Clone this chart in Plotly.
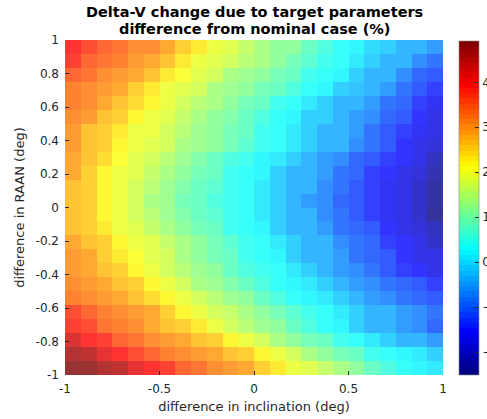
import numpy as np
import plotly.graph_objects as go

# Grid edges (deg): 24 x 24 cells spanning -1..1
incl_edges = np.linspace(-1, 1, 25)
raan_edges = np.linspace(-1, 1, 25)

# Delta-V difference from nominal (%), rows listed from RAAN = +1 (top) down to RAAN = -1
dv_rows_top_down = [
    [3.9, 3.7, 3.5, 3.4, 3.1, 3.1, 2.9, 2.6, 2.3, 2.0, 1.8, 1.6, 1.4, 1.2, 1.1, 0.8, 0.6, 0.4, 0.2, 0.0, -0.1, -0.3, -0.4, -0.6],
    [3.8, 3.5, 3.4, 3.3, 3.0, 2.9, 2.7, 2.3, 2.0, 1.9, 1.7, 1.5, 1.4, 1.1, 0.9, 0.7, 0.5, 0.3, 0.1, -0.1, -0.3, -0.4, -0.7, -0.9],
    [3.5, 3.4, 3.1, 3.0, 2.9, 2.7, 2.3, 2.1, 1.9, 1.7, 1.4, 1.3, 1.1, 0.9, 0.8, 0.5, 0.3, 0.2, -0.1, -0.3, -0.4, -0.7, -1.0, -1.2],
    [3.3, 3.1, 3.0, 2.9, 2.5, 2.3, 2.0, 1.9, 1.7, 1.4, 1.3, 1.1, 0.9, 0.8, 0.6, 0.4, 0.2, -0.1, -0.2, -0.4, -0.6, -0.9, -1.2, -1.4],
    [3.3, 3.1, 2.9, 2.7, 2.4, 2.2, 2.0, 1.7, 1.5, 1.4, 1.1, 0.9, 0.8, 0.5, 0.3, 0.1, -0.1, -0.3, -0.4, -0.6, -0.9, -1.0, -1.4, -1.6],
    [3.1, 3.0, 2.7, 2.5, 2.2, 2.0, 1.9, 1.6, 1.4, 1.2, 1.0, 0.8, 0.6, 0.4, 0.2, -0.1, -0.1, -0.4, -0.6, -0.7, -1.0, -1.2, -1.5, -1.7],
    [3.0, 2.7, 2.5, 2.3, 2.0, 2.0, 1.7, 1.5, 1.3, 1.1, 0.9, 0.8, 0.5, 0.4, 0.1, -0.1, -0.3, -0.4, -0.6, -0.9, -1.2, -1.4, -1.6, -1.8],
    [3.0, 2.7, 2.5, 2.2, 2.0, 1.9, 1.7, 1.4, 1.3, 1.1, 0.9, 0.7, 0.5, 0.3, 0.1, -0.1, -0.3, -0.4, -0.7, -0.9, -1.2, -1.5, -1.7, -1.9],
    [2.9, 2.7, 2.4, 2.1, 1.9, 1.7, 1.5, 1.3, 1.0, 0.8, 0.6, 0.5, 0.2, 0.1, -0.1, -0.4, -0.6, -0.7, -1.0, -1.2, -1.4, -1.5, -1.8, -2.1],
    [2.9, 2.5, 2.2, 2.0, 1.8, 1.6, 1.4, 1.1, 0.9, 0.8, 0.5, 0.3, 0.2, -0.1, -0.3, -0.4, -0.6, -0.9, -1.0, -1.4, -1.5, -1.7, -1.9, -2.2],
    [2.7, 2.5, 2.2, 2.0, 1.7, 1.5, 1.3, 1.0, 0.8, 0.7, 0.5, 0.3, 0.1, -0.1, -0.3, -0.4, -0.7, -0.9, -1.2, -1.4, -1.6, -1.8, -2.0, -2.3],
    [2.7, 2.5, 2.2, 2.0, 1.7, 1.4, 1.3, 0.9, 0.8, 0.6, 0.5, 0.3, 0.1, -0.1, -0.3, -0.6, -0.7, -1.0, -1.2, -1.4, -1.6, -1.8, -2.0, -2.3],
    [2.7, 2.5, 2.2, 2.0, 1.7, 1.5, 1.3, 1.0, 0.8, 0.7, 0.5, 0.3, 0.1, -0.1, -0.3, -0.4, -0.7, -0.9, -1.2, -1.4, -1.6, -1.8, -2.0, -2.4],
    [2.7, 2.5, 2.3, 2.0, 1.9, 1.6, 1.4, 1.1, 0.9, 0.8, 0.5, 0.3, 0.2, -0.1, -0.3, -0.4, -0.6, -0.9, -1.0, -1.2, -1.5, -1.7, -1.9, -2.1],
    [2.9, 2.7, 2.5, 2.2, 2.0, 1.8, 1.6, 1.4, 1.1, 0.9, 0.7, 0.5, 0.3, 0.1, -0.1, -0.3, -0.4, -0.7, -0.9, -1.0, -1.4, -1.5, -1.8, -2.0],
    [3.0, 2.9, 2.5, 2.3, 2.1, 1.9, 1.7, 1.4, 1.1, 0.9, 0.8, 0.5, 0.3, 0.2, -0.1, -0.3, -0.4, -0.6, -0.9, -1.0, -1.2, -1.5, -1.7, -1.8],
    [3.0, 2.9, 2.7, 2.5, 2.2, 2.0, 1.7, 1.5, 1.3, 1.1, 0.8, 0.6, 0.5, 0.3, 0.1, -0.1, -0.3, -0.6, -0.7, -0.9, -1.2, -1.4, -1.5, -1.8],
    [3.1, 3.0, 2.9, 2.7, 2.5, 2.2, 2.0, 1.7, 1.4, 1.3, 1.0, 0.8, 0.6, 0.4, 0.2, 0.1, -0.1, -0.4, -0.6, -0.7, -0.9, -1.0, -1.2, -1.4],
    [3.3, 3.1, 3.0, 2.9, 2.7, 2.4, 2.2, 2.0, 1.7, 1.5, 1.3, 1.1, 0.8, 0.6, 0.4, 0.2, 0.1, -0.1, -0.4, -0.6, -0.7, -0.9, -1.0, -1.2],
    [3.7, 3.5, 3.3, 3.1, 3.0, 2.9, 2.5, 2.2, 2.0, 1.7, 1.6, 1.4, 1.1, 0.9, 0.7, 0.5, 0.3, 0.1, -0.1, -0.3, -0.4, -0.6, -0.7, -0.9],
    [3.8, 3.7, 3.4, 3.3, 3.1, 2.9, 2.7, 2.5, 2.3, 2.0, 1.7, 1.5, 1.3, 1.1, 0.8, 0.6, 0.4, 0.2, -0.1, -0.3, -0.4, -0.6, -0.7, -1.0],
    [4.3, 4.0, 3.8, 3.5, 3.4, 3.1, 3.0, 2.9, 2.7, 2.5, 2.2, 2.0, 1.7, 1.4, 1.1, 0.9, 0.8, 0.5, 0.3, 0.1, -0.1, -0.3, -0.4, -0.6],
    [4.6, 4.5, 4.2, 4.0, 3.7, 3.5, 3.3, 3.1, 3.0, 2.9, 2.7, 2.5, 2.2, 2.0, 1.7, 1.4, 1.1, 0.9, 0.8, 0.5, 0.3, 0.2, 0.1, -0.1],
    [4.9, 4.9, 4.6, 4.5, 4.2, 4.0, 3.8, 3.5, 3.4, 3.1, 3.0, 2.9, 2.6, 2.3, 2.0, 1.9, 1.6, 1.4, 1.1, 0.8, 0.6, 0.4, 0.2, 0.1],
]

color_min, color_max = -2.5, 4.93
x_ticks = [-1, -0.5, 0, 0.5, 1]
y_ticks = [-1, -0.8, -0.6, -0.4, -0.2, 0, 0.2, 0.4, 0.6, 0.8, 1]
cbar_ticks = [-2, -1, 0, 1, 2, 3, 4]

TITLE_LINES = ["Delta-V change due to target parameters", "difference from nominal case (%)"]


def jet_levels(n=64):
    """Stepped jet colour scale with n discrete levels."""
    scale = []
    for i in range(n):
        t = i / (n - 1)
        r = np.clip(1.5 - abs(4 * t - 3), 0, 1)
        g = np.clip(1.5 - abs(4 * t - 2), 0, 1)
        b = np.clip(1.5 - abs(4 * t - 1), 0, 1)
        c = f"rgb({int(round(r * 255))},{int(round(g * 255))},{int(round(b * 255))})"
        scale.append([i / n, c])
        scale.append([(i + 1) / n, c])
    return scale


z = np.array(dv_rows_top_down)[::-1]

W, H = 487, 419
left, right, top, bottom = 65, 44, 40, 44
plot_w = W - left - right

fig = go.Figure(
    go.Heatmap(
        x=incl_edges,
        y=raan_edges,
        z=z,
        zmin=color_min,
        zmax=color_max,
        colorscale=jet_levels(64),
        opacity=0.8,
        hoverinfo="skip",
        colorbar=dict(
            thickness=20,
            thicknessmode="pixels",
            len=334,
            lenmode="pixels",
            x=(459 - left) / plot_w,
            xanchor="left",
            xpad=0,
            y=0.5,
            yanchor="middle",
            ypad=0,
            outlinewidth=0.6,
            outlinecolor="#888888",
            ticks="inside",
            ticklen=4,
            tickcolor="#262626",
            tickvals=cbar_ticks,
            tickfont=dict(family="DejaVu Sans", size=12, color="#262626"),
        ),
    )
)

# Two-line bold title, each line placed on its own baseline
for line, y_center in zip(TITLE_LINES, [12, 29]):
    fig.add_annotation(
        text="<b>" + line + "</b>",
        x=0.5,
        xref="paper",
        xanchor="center",
        y=1 - (y_center - top) / (H - top - bottom),
        yref="paper",
        yanchor="middle",
        showarrow=False,
        borderpad=0,
        font=dict(family="DejaVu Sans", size=14.5, color="#000000"),
    )

fig.update_layout(
    width=W,
    height=H,
    margin=dict(l=left, r=right, t=top, b=bottom, pad=0, autoexpand=False),
    paper_bgcolor="white",
    plot_bgcolor="white",
    font=dict(family="DejaVu Sans", size=12, color="#262626"),
    xaxis=dict(
        range=[-1, 1],
        tickvals=x_ticks,
        ticktext=[f"{v:g}" for v in x_ticks],
        ticks="inside",
        ticklen=4,
        tickcolor="#262626",
        ticklabelstandoff=5,
        showgrid=False,
        zeroline=False,
        showline=False,
        title=dict(text="difference in inclination (deg)", font=dict(size=13), standoff=6),
    ),
    yaxis=dict(
        range=[-1, 1],
        tickvals=y_ticks,
        ticktext=[f"{v:g}" for v in y_ticks],
        ticks="inside",
        ticklen=4,
        tickcolor="#262626",
        ticklabelstandoff=5,
        showgrid=False,
        zeroline=False,
        showline=False,
        title=dict(text="difference in RAAN (deg)", font=dict(size=13), standoff=8),
    ),
)

fig.write_html("out.html")
